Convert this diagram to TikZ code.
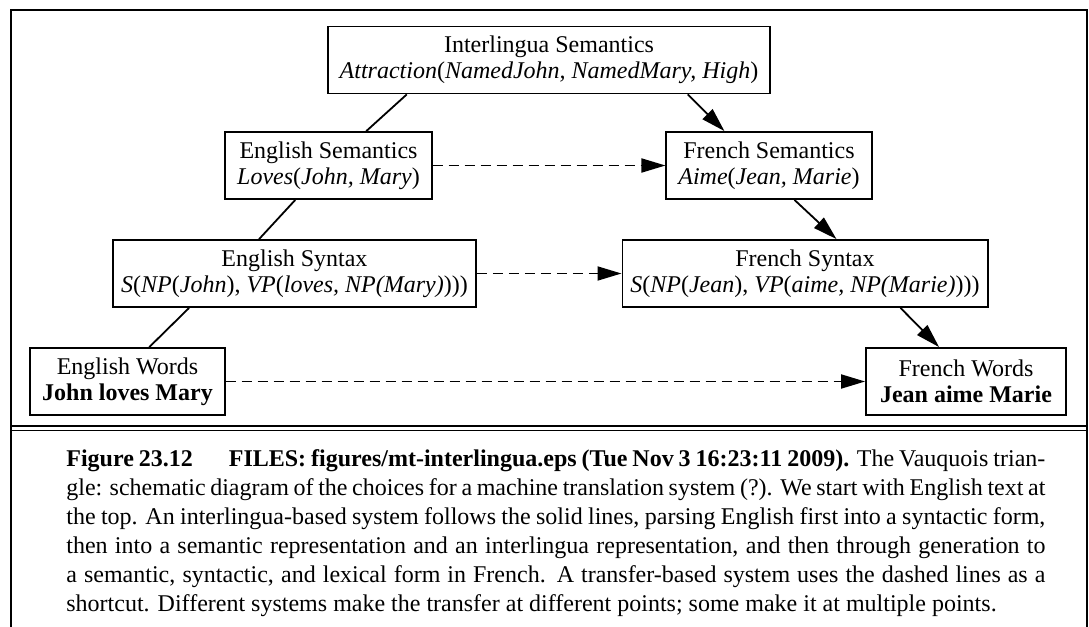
\documentclass[tikz,border=0pt]{standalone}
\usepackage{fontspec}
\setmainfont{Liberation Serif}
\usepackage{tikz}
\usetikzlibrary{arrows.meta,positioning,calc}

\begin{document}
\begin{tikzpicture}[
    x=0.5pt, y=-0.5pt,
    box/.style={draw, line width=0.9pt, align=center, inner xsep=6pt, inner ysep=2pt, minimum height=33.5pt, font=\fontsize{12}{13}\selectfont},
    link/.style={line width=0.9pt},
    arrow/.style={link, -{Triangle[length=12pt, width=7pt]}},
    transfer/.style={arrow, dash pattern=on 5pt off 3pt},
    frame/.style={line width=1.3pt},
    caption/.style={text width=489.5pt, align=justify, inner sep=0pt, font=\fontsize{12}{14.5}\selectfont}
]
\useasboundingbox (0,0) rectangle (1089,627);

\node[box] (inter) at (549,60) {Interlingua Semantics\\\textit{Attraction}(\textit{NamedJohn, NamedMary, High})};
\node[box, minimum width=101.5pt] (esem) at (328.5,165.5) {English Semantics\\\textit{Loves}(\textit{John, Mary})};
\node[box, minimum width=100pt] (fsem) at (769,165.5) {French Semantics\\\textit{Aime}(\textit{Jean, Marie})};
\node[box, inner xsep=4pt, minimum width=181.5pt] (esyn) at (294.5,273.5) {English Syntax\\\textit{S}(\textit{NP}(\textit{John}), \textit{VP}(\textit{loves, NP(Mary)})))};
\node[box, inner xsep=4pt, minimum width=182pt] (fsyn) at (805,273.5) {French Syntax\\\textit{S}(\textit{NP}(\textit{Jean}), \textit{VP}(\textit{aime, NP(Marie)})))};
\node[box, minimum width=96.5pt] (ewords) at (127.5,381.5) {English Words\\\textbf{John loves Mary}};
\node[box, minimum width=100pt] (fwords) at (966,381.5) {French Words\\\textbf{Jean aime Marie}};

\draw[link] ($(inter.south west)+(80,0)$) -- ($(esem.north west)+(142,0)$);
\draw[link] ($(esem.south west)+(71,0)$) -- ($(esyn.north west)+(147,0)$);
\draw[link] ($(esyn.south west)+(77,0)$) -- ($(ewords.north west)+(120,0)$);
\draw[arrow] ($(inter.south west)+(361,0)$) -- ($(fsem.north west)+(59,0)$);
\draw[arrow] ($(fsem.south west)+(129,0)$) -- ($(fsyn.north west)+(215,0)$);
\draw[arrow] ($(fsyn.south west)+(279,0)$) -- ($(fwords.north west)+(74,0)$);

\draw[transfer] (esem) -- (fsem);
\draw[transfer] (esyn) -- (fsyn);
\draw[transfer] (ewords) -- (fwords);

\draw[frame] (11,627) -- (11,10) -- (1087,10) -- (1087,627);
\draw[frame] (11,426) -- (1087,426);
\draw[link] (11,430.5) -- (1087,430.5);

\node[caption, anchor=north west] (cap) at (66,449) {\textbf{Figure 23.12}\hspace{1.5em}\textbf{FILES: figures/mt-interlingua.eps (Tue Nov 3 16:23:11 2009).} The Vauquois trian-\linebreak gle: schematic diagram of the choices for a machine translation system (?). We start with English text at\linebreak the top. An interlingua-based system follows the solid lines, parsing English first into a syntactic form,\linebreak then into a semantic representation and an interlingua representation, and then through generation to\linebreak a semantic, syntactic, and lexical form in French. A transfer-based system uses the dashed lines as a\linebreak shortcut. Different systems make the transfer at different points; some make it at multiple points.};
\end{tikzpicture}
\end{document}
